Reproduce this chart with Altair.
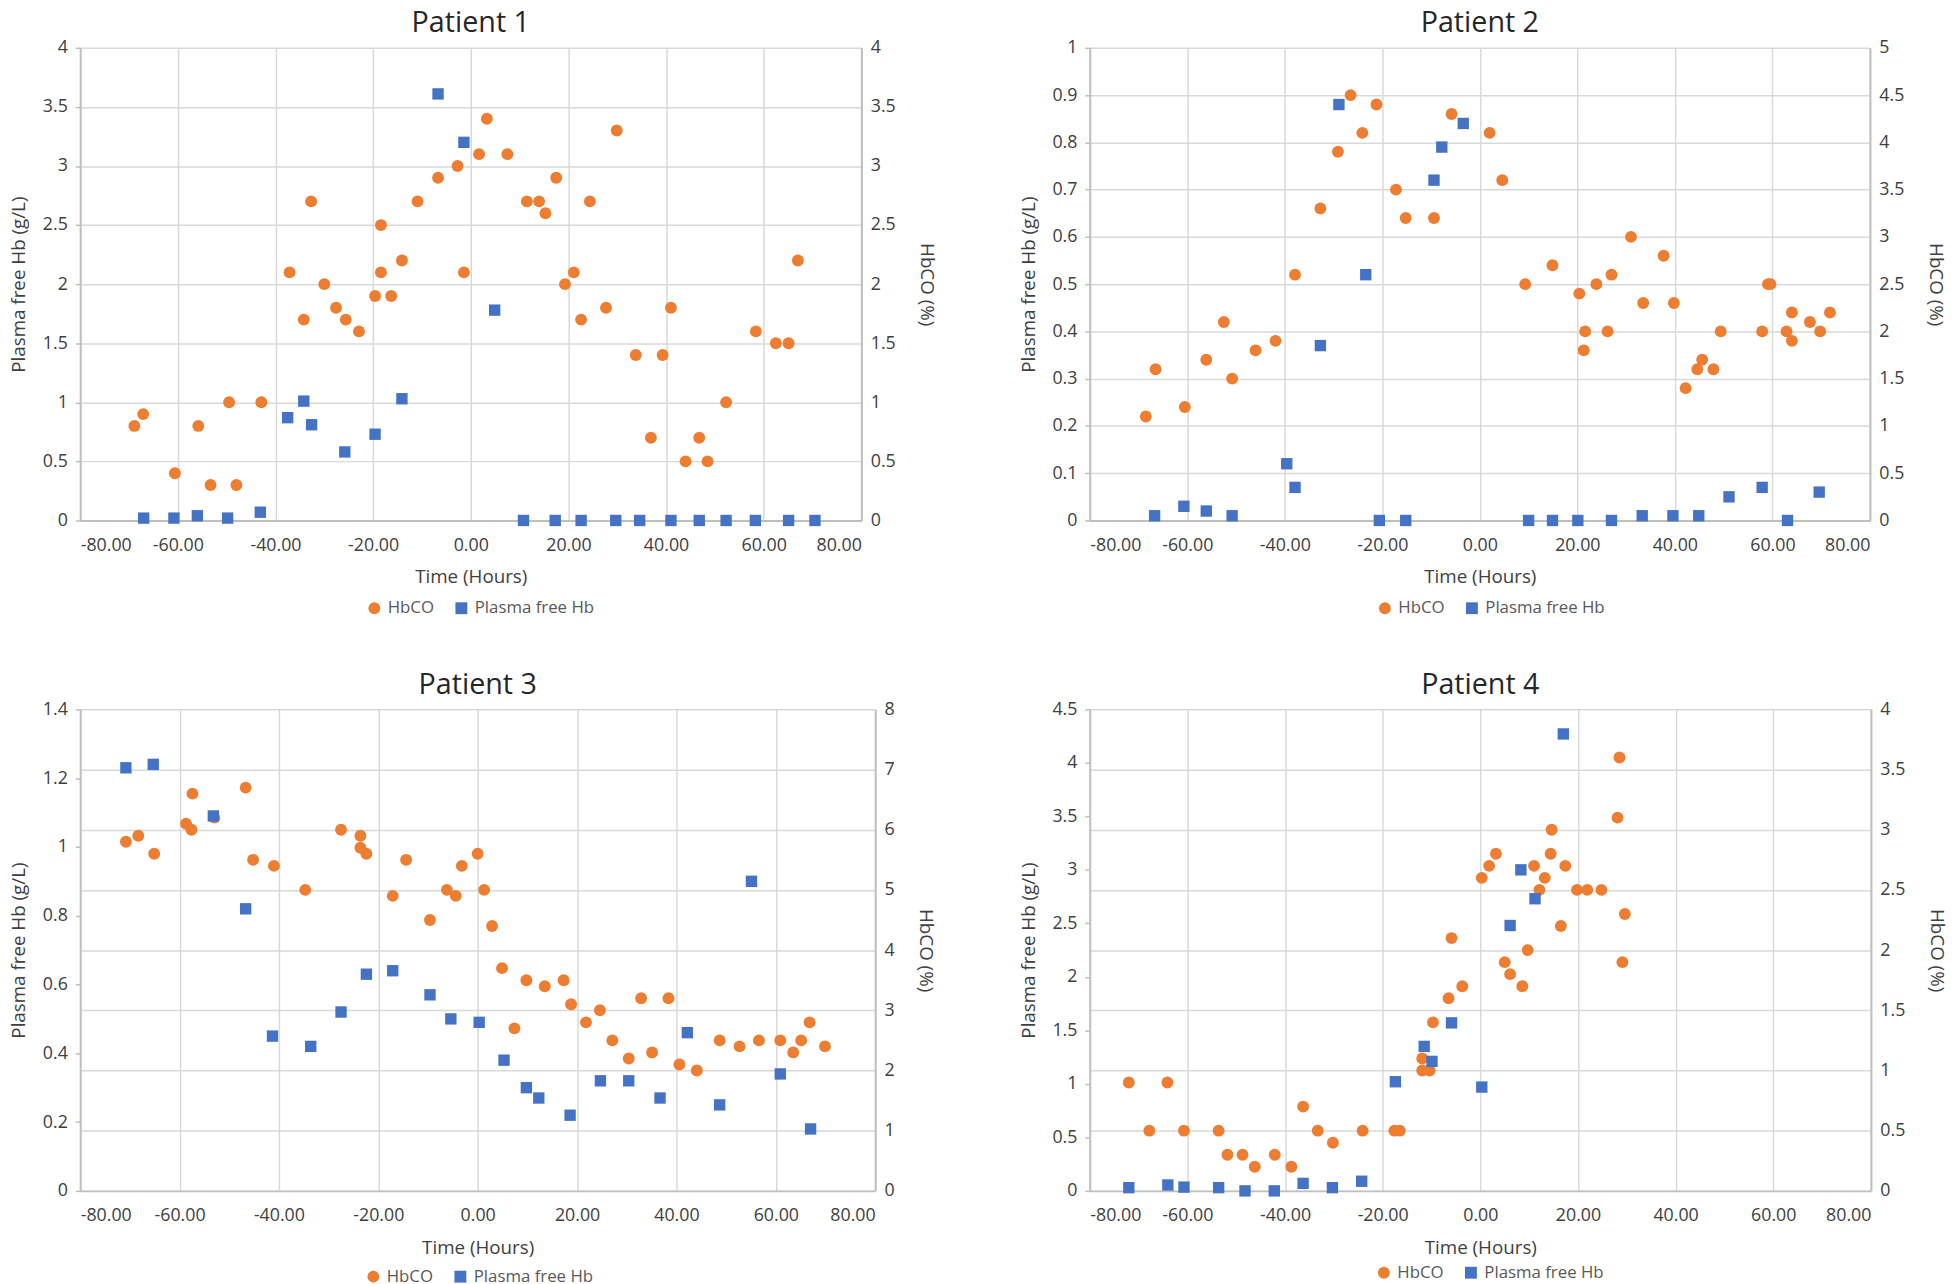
import altair as alt
import pandas as pd

SERIES = ["HbCO", "Plasma free Hb"]
ORANGE = "#ED7D31"
BLUE = "#4472C4"
FONT = "Open Sans"

X_TICKS = [-80, -60, -40, -20, 0, 20, 40, 60, 80]

# ---------------- Patient 1 ----------------
p1_hbco_t = [-68.9, -67.1, -60.6, -55.8, -53.3, -49.5, -48.0, -42.9, -37.1, -34.2, -32.7, -30.0, -27.6,
             -25.6, -22.9, -19.6, -18.4, -18.4, -16.3, -14.1, -10.9, -6.7, -2.7, -1.4, 1.7, 3.3, 7.5,
             11.5, 14.0, 15.3, 17.5, 19.3, 21.1, 22.6, 24.4, 27.7, 29.9, 33.8, 36.9, 39.3, 41.0, 44.0,
             46.8, 48.5, 52.3, 58.4, 62.5, 65.1, 67.0]
p1_hbco_v = [0.8, 0.9, 0.4, 0.8, 0.3, 1.0, 0.3, 1.0, 2.1, 1.7, 2.7, 2.0, 1.8,
             1.7, 1.6, 1.9, 2.1, 2.5, 1.9, 2.2, 2.7, 2.9, 3.0, 2.1, 3.1, 3.4, 3.1,
             2.7, 2.7, 2.6, 2.9, 2.0, 2.1, 1.7, 2.7, 1.8, 3.3, 1.4, 0.7, 1.4, 1.8, 0.5,
             0.7, 0.5, 1.0, 1.6, 1.5, 1.5, 2.2]
p1_pfhb_t = [-67.0, -60.8, -56.0, -49.8, -43.1, -37.5, -34.2, -32.6, -25.8, -19.6, -14.1, -6.7, -1.4,
             4.9, 10.8, 17.3, 22.6, 29.7, 34.6, 41.0, 46.8, 52.3, 58.3, 65.1, 70.5]
p1_pfhb_v = [0.02, 0.02, 0.04, 0.02, 0.07, 0.87, 1.01, 0.81, 0.58, 0.73, 1.03, 3.61, 3.20,
             1.78, 0, 0, 0, 0, 0, 0, 0, 0, 0, 0, 0]
p1_left_ticks = [0, 0.5, 1, 1.5, 2, 2.5, 3, 3.5, 4]
p1_right_ticks = [0, 0.5, 1, 1.5, 2, 2.5, 3, 3.5, 4]

# ---------------- Patient 2 ----------------
p2_hbco_t = [-68.5, -66.5, -60.5, -56.1, -52.5, -50.8, -46.0, -41.9, -37.9, -32.7, -29.1, -26.5, -24.1,
             -21.2, -17.2, -15.2, -9.4, -5.8, 2.0, 4.6, 9.3, 14.9, 20.4, 21.3, 21.6, 23.9, 26.2, 27.0,
             31.0, 33.5, 37.7, 39.8, 42.2, 44.6, 45.6, 47.9, 49.4, 57.9, 59.1, 59.6, 62.9, 64.0, 64.0,
             67.7, 69.8, 71.8]
p2_hbco_v = [1.1, 1.6, 1.2, 1.7, 2.1, 1.5, 1.8, 1.9, 2.6, 3.3, 3.9, 4.5, 4.1,
             4.4, 3.5, 3.2, 3.2, 4.3, 4.1, 3.6, 2.5, 2.7, 2.4, 1.8, 2.0, 2.5, 2.0, 2.6,
             3.0, 2.3, 2.8, 2.3, 1.4, 1.6, 1.7, 1.6, 2.0, 2.0, 2.5, 2.5, 2.0, 1.9, 2.2,
             2.1, 2.0, 2.2]
p2_pfhb_t = [-66.7, -60.7, -56.1, -50.8, -39.6, -37.9, -32.7, -28.9, -23.4, -20.6, -15.2, -9.4, -7.8,
             -3.4, 10.0, 14.9, 20.1, 27.0, 33.3, 39.6, 44.9, 51.1, 57.9, 63.1, 69.6]
p2_pfhb_v = [0.01, 0.03, 0.02, 0.01, 0.12, 0.07, 0.37, 0.88, 0.52, 0, 0, 0.72, 0.79,
             0.84, 0, 0, 0, 0, 0.01, 0.01, 0.01, 0.05, 0.07, 0, 0.06]
p2_left_ticks = [0, 0.1, 0.2, 0.3, 0.4, 0.5, 0.6, 0.7, 0.8, 0.9, 1]
p2_right_ticks = [0, 0.5, 1, 1.5, 2, 2.5, 3, 3.5, 4, 4.5, 5]

# ---------------- Patient 3 ----------------
p3_hbco_t = [-70.8, -68.3, -65.1, -58.7, -57.6, -57.4, -53.0, -46.7, -45.2, -41.0, -34.7, -27.5, -23.6,
             -23.6, -22.4, -17.1, -14.4, -9.6, -6.2, -4.4, -3.2, 0.0, 1.3, 2.9, 4.9, 7.4, 9.8, 13.5,
             17.3, 18.8, 21.8, 24.6, 27.1, 30.4, 32.9, 35.1, 38.4, 40.6, 44.1, 48.7, 52.7, 56.6, 60.9,
             63.5, 65.1, 66.8, 69.9]
p3_hbco_v = [5.8, 5.9, 5.6, 6.1, 6.0, 6.6, 6.2, 6.7, 5.5, 5.4, 5.0, 6.0, 5.9,
             5.7, 5.6, 4.9, 5.5, 4.5, 5.0, 4.9, 5.4, 5.6, 5.0, 4.4, 3.7, 2.7, 3.5, 3.4,
             3.5, 3.1, 2.8, 3.0, 2.5, 2.2, 3.2, 2.3, 3.2, 2.1, 2.0, 2.5, 2.4, 2.5, 2.5,
             2.3, 2.5, 2.8, 2.4]
p3_pfhb_t = [-70.8, -65.3, -53.2, -46.7, -41.3, -33.6, -27.5, -22.4, -17.1, -9.6, -5.4, 0.3, 5.3,
             9.8, 12.3, 18.6, 24.7, 30.4, 36.7, 42.2, 48.7, 55.1, 60.9, 67.0]
p3_pfhb_v = [1.23, 1.24, 1.09, 0.82, 0.45, 0.42, 0.52, 0.63, 0.64, 0.57, 0.50, 0.49, 0.38,
             0.30, 0.27, 0.22, 0.32, 0.32, 0.27, 0.46, 0.25, 0.90, 0.34, 0.18]
p3_left_ticks = [0, 0.2, 0.4, 0.6, 0.8, 1, 1.2, 1.4]
p3_right_ticks = [0, 1, 2, 3, 4, 5, 6, 7, 8]

# ---------------- Patient 4 ----------------
p4_hbco_t = [-72.0, -67.8, -64.1, -60.7, -53.6, -51.8, -48.7, -46.2, -42.1, -38.7, -36.3, -33.3, -30.2,
             -24.1, -17.6, -16.5, -11.9, -10.4, -11.9, -9.7, -6.5, -5.9, -3.7, 0.3, 1.8, 3.2, 5.0, 6.1,
             8.6, 9.7, 11.0, 12.1, 13.2, 14.4, 14.6, 16.5, 17.4, 19.8, 21.9, 24.8, 28.1, 28.5, 29.6, 29.1]
p4_hbco_v = [0.9, 0.5, 0.9, 0.5, 0.5, 0.3, 0.3, 0.2, 0.3, 0.2, 0.7, 0.5, 0.4,
             0.5, 0.5, 0.5, 1.0, 1.0, 1.1, 1.4, 1.6, 2.1, 1.7, 2.6, 2.7, 2.8, 1.9, 1.8,
             1.7, 2.0, 2.7, 2.5, 2.6, 2.8, 3.0, 2.2, 2.7, 2.5, 2.5, 2.5, 3.1, 3.6, 2.3, 1.9]
p4_pfhb_t = [-72.0, -64.0, -60.7, -53.6, -48.2, -42.2, -36.3, -30.3, -24.3, -17.4, -11.5, -9.9, -5.9,
             0.3, 6.1, 8.3, 11.2, 17.0]
p4_pfhb_v = [0.03, 0.055, 0.035, 0.03, 0, 0, 0.07, 0.03, 0.09, 1.02, 1.35, 1.21, 1.57,
             0.97, 2.48, 3.0, 2.73, 4.27]
p4_left_ticks = [0, 0.5, 1, 1.5, 2, 2.5, 3, 3.5, 4, 4.5]
p4_right_ticks = [0, 0.5, 1, 1.5, 2, 2.5, 3, 3.5, 4]

X_LABEL_EXPR = "datum.value < 0 ? '-' + format(-datum.value, '.2f') : format(datum.value, '.2f')"


def make_panel(title, hb_t, hb_v, pf_t, pf_v, lticks, rticks, w, h, lx, ly):
    hb = pd.DataFrame({"t": hb_t, "v": hb_v, "series": "HbCO"})
    pf = pd.DataFrame({"t": pf_t, "v": pf_v, "series": "Plasma free Hb"})

    legend = alt.Legend(orient="none", legendX=lx, legendY=ly, direction="horizontal",
                        title=None, padding=0, columnPadding=19, labelOffset=5,
                        symbolSize=144, symbolStrokeWidth=0, symbolOpacity=1,
                        labelFont=FONT, labelFontSize=17, labelColor="#595959")
    color = alt.Color("series:N", scale=alt.Scale(domain=SERIES, range=[ORANGE, BLUE]), legend=legend)
    shape = alt.Shape("series:N", scale=alt.Scale(domain=SERIES, range=["circle", "square"]), legend=legend)

    x = alt.X("t:Q", scale=alt.Scale(domain=[-80, 80], nice=False, zero=False),
              axis=alt.Axis(values=X_TICKS, labelExpr=X_LABEL_EXPR, title="Time (Hours)",
                            grid=True, ticks=False, tickSize=0, labelPadding=16, titlePadding=14))

    right_axis = alt.Axis(orient="right", values=rticks, format="~g", grid=True, ticks=False,
                          tickSize=0, labelPadding=9, title="HbCO (%)", titlePadding=22)
    left_axis = alt.Axis(orient="left", values=lticks, format="~g", grid=False, ticks=True,
                         tickSize=5, labelPadding=8, title="Plasma free Hb (g/L)", titlePadding=14)

    hb_layer = alt.Chart(hb).mark_point(filled=True, opacity=1, size=144, strokeWidth=0).encode(
        x=x,
        y=alt.Y("v:Q", scale=alt.Scale(domain=[rticks[0], rticks[-1]], nice=False, zero=True), axis=right_axis),
        color=color, shape=shape)
    pf_layer = alt.Chart(pf).mark_point(filled=True, opacity=1, size=132, strokeWidth=0).encode(
        x=x,
        y=alt.Y("v:Q", scale=alt.Scale(domain=[lticks[0], lticks[-1]], nice=False, zero=True), axis=left_axis),
        color=color, shape=shape)

    return alt.layer(hb_layer, pf_layer).resolve_scale(y="independent").properties(
        width=w, height=h,
        title=alt.TitleParams(title, anchor="middle", frame="group", offset=-22,
                              baseline="alphabetic"))


p1 = make_panel("Patient 1", p1_hbco_t, p1_hbco_v, p1_pfhb_t, p1_pfhb_v, p1_left_ticks, p1_right_ticks,
                790, 478, 289, 558)
p2 = make_panel("Patient 2", p2_hbco_t, p2_hbco_v, p2_pfhb_t, p2_pfhb_v, p2_left_ticks, p2_right_ticks,
                789, 478, 290, 558)
p3 = make_panel("Patient 3", p3_hbco_t, p3_hbco_v, p3_pfhb_t, p3_pfhb_v, p3_left_ticks, p3_right_ticks,
                804, 487, 288, 565)
p4 = make_panel("Patient 4", p4_hbco_t, p4_hbco_v, p4_pfhb_t, p4_pfhb_v, p4_left_ticks, p4_right_ticks,
                790, 487, 289, 561)

chart = alt.concat(
    p1, p2, p3, p4, columns=2, spacing={"row": 191, "column": 217}, bounds="flush"
).resolve_scale(
    color="independent", shape="independent"
).properties(
    padding={"left": 1, "top": -6, "right": 5, "bottom": 0}
).configure(
    font=FONT
).configure_view(
    stroke=None
).configure_axis(
    labelFont=FONT, labelFontSize=18, labelColor="#404040",
    titleFont=FONT, titleFontSize=19, titleFontWeight="normal", titleColor="#404040",
    domainColor="#BFBFBF", domainWidth=2, tickColor="#BFBFBF", tickWidth=1.5,
    gridColor="#D9D9D9", gridWidth=1.5
).configure_title(
    font=FONT, fontSize=29, fontWeight="normal", color="#262626"
)

chart.save("out.html", embed_options={"renderer": "svg", "actions": False})
